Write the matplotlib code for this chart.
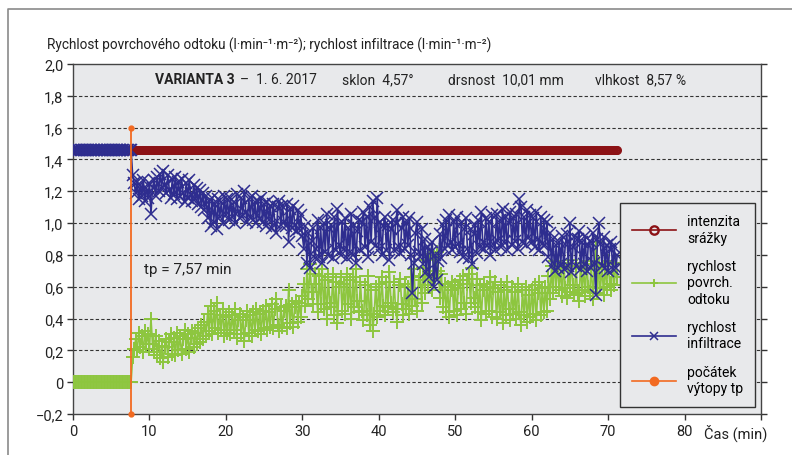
import matplotlib
matplotlib.use("Agg")
import matplotlib.pyplot as plt
from matplotlib.lines import Line2D
import matplotlib.transforms as mtransforms
import numpy as np

plt.rcParams["font.family"] = ["Roboto", "DejaVu Sans"]

# measurement times (min), step 0.2 min
time = np.round(np.arange(0, 71.21, 0.2), 1)

# rainfall intensity (l/min/m2), constant for the whole run
rain = [1.46] * len(time)

# surface runoff rate: zero until ponding, then measured values from 7.8 min
runoff = [0.0] * 39 + [
    0.16, 0.21, 0.27, 0.20, 0.31, 0.22, 0.29, 0.19, 0.32, 0.24,
    0.30, 0.21, 0.40, 0.24, 0.19, 0.29, 0.17, 0.26, 0.15, 0.23,
    0.13, 0.22, 0.27, 0.16, 0.25, 0.30, 0.18, 0.28, 0.17, 0.31,
    0.20, 0.29, 0.18, 0.27, 0.33, 0.21, 0.30, 0.19, 0.28, 0.32,
    0.22, 0.31, 0.24, 0.34, 0.25, 0.36, 0.27, 0.38, 0.29, 0.43,
    0.32, 0.48, 0.30, 0.45, 0.34, 0.50, 0.31, 0.42, 0.33, 0.46,
    0.29, 0.41, 0.31, 0.44, 0.30, 0.42, 0.33, 0.46, 0.28, 0.39,
    0.43, 0.30, 0.41, 0.26, 0.39, 0.45, 0.31, 0.42, 0.29, 0.44,
    0.33, 0.46, 0.32, 0.43, 0.30, 0.45, 0.34, 0.48, 0.33, 0.44,
    0.35, 0.49, 0.34, 0.46, 0.52, 0.36, 0.32, 0.47, 0.35, 0.45,
    0.48, 0.34, 0.58, 0.37, 0.49, 0.35, 0.47, 0.51, 0.38, 0.50,
    0.41, 0.54, 0.62, 0.48, 0.71, 0.52, 0.74, 0.57, 0.49, 0.68,
    0.62, 0.44, 0.67, 0.49, 0.71, 0.46, 0.64, 0.40, 0.66, 0.50,
    0.47, 0.68, 0.42, 0.63, 0.37, 0.60, 0.66, 0.45, 0.62, 0.43,
    0.68, 0.49, 0.64, 0.40, 0.66, 0.47, 0.71, 0.51, 0.44, 0.63,
    0.45, 0.39, 0.61, 0.42, 0.67, 0.36, 0.58, 0.32, 0.43, 0.60,
    0.41, 0.62, 0.45, 0.66, 0.48, 0.42, 0.63, 0.47, 0.69, 0.50,
    0.44, 0.63, 0.46, 0.38, 0.61, 0.65, 0.49, 0.42, 0.62, 0.46,
    0.60, 0.43, 0.66, 0.48, 0.71, 0.52, 0.45, 0.64, 0.67, 0.50,
    0.72, 0.56, 0.77, 0.61, 0.80, 0.64, 0.58, 0.79, 0.66, 0.82,
    0.70, 0.53, 0.68, 0.47, 0.62, 0.44, 0.60, 0.41, 0.58, 0.63,
    0.45, 0.61, 0.42, 0.59, 0.64, 0.46, 0.67, 0.50, 0.43, 0.62,
    0.68, 0.50, 0.72, 0.53, 0.47, 0.65, 0.44, 0.61, 0.39, 0.58,
    0.62, 0.43, 0.60, 0.45, 0.66, 0.41, 0.59, 0.63, 0.40, 0.57,
    0.44, 0.61, 0.37, 0.58, 0.42, 0.63, 0.46, 0.39, 0.60, 0.43,
    0.57, 0.40, 0.62, 0.44, 0.36, 0.58, 0.42, 0.60, 0.38, 0.55,
    0.41, 0.58, 0.43, 0.61, 0.39, 0.56, 0.63, 0.42, 0.59, 0.44,
    0.60, 0.45, 0.67, 0.52, 0.73, 0.56, 0.76, 0.60, 0.74, 0.58,
    0.72, 0.54, 0.75, 0.59, 0.53, 0.73, 0.57, 0.77, 0.61, 0.55,
    0.73, 0.56, 0.51, 0.75, 0.58, 0.72, 0.54, 0.76, 0.60, 0.57,
    0.74, 0.52, 0.71, 0.88, 0.56, 0.75, 0.59, 0.73, 0.55, 0.74,
    0.60, 0.76, 0.62, 0.58, 0.75, 0.61, 0.74, 0.66,
]

# infiltration rate: equal to rainfall until ponding, then measured values
infiltration = [1.46] * 39 + [
    1.30, 1.25, 1.19, 1.26, 1.15, 1.24, 1.17, 1.27, 1.14, 1.22,
    1.16, 1.25, 1.06, 1.22, 1.27, 1.17, 1.29, 1.20, 1.31, 1.23,
    1.33, 1.24, 1.19, 1.30, 1.21, 1.16, 1.28, 1.18, 1.29, 1.15,
    1.26, 1.17, 1.28, 1.19, 1.13, 1.25, 1.16, 1.27, 1.18, 1.14,
    1.24, 1.15, 1.22, 1.12, 1.21, 1.10, 1.19, 1.08, 1.17, 1.03,
    1.14, 0.98, 1.16, 1.01, 1.12, 0.96, 1.15, 1.04, 1.13, 1.00,
    1.17, 1.05, 1.15, 1.02, 1.16, 1.04, 1.13, 1.00, 1.18, 1.07,
    1.03, 1.16, 1.05, 1.20, 1.07, 1.01, 1.15, 1.04, 1.17, 1.02,
    1.13, 1.00, 1.14, 1.03, 1.16, 1.01, 1.12, 0.98, 1.13, 1.02,
    1.11, 0.97, 1.12, 1.00, 0.94, 1.10, 1.14, 0.99, 1.11, 1.01,
    0.98, 1.12, 0.88, 1.09, 0.97, 1.11, 0.99, 0.95, 1.08, 0.96,
    1.05, 0.92, 0.84, 0.98, 0.75, 0.94, 0.72, 0.89, 0.97, 0.78,
    0.84, 1.02, 0.79, 0.97, 0.75, 1.00, 0.82, 1.06, 0.80, 0.96,
    0.99, 0.78, 1.04, 0.83, 1.09, 0.86, 0.80, 1.01, 0.84, 1.03,
    0.78, 0.97, 0.82, 1.06, 0.80, 0.99, 0.75, 0.95, 1.02, 0.83,
    1.01, 1.07, 0.85, 1.04, 0.79, 1.10, 0.88, 1.14, 1.03, 0.86,
    1.16, 0.84, 1.01, 0.80, 0.98, 1.04, 0.83, 0.99, 0.77, 0.96,
    1.02, 0.83, 1.00, 1.08, 0.85, 0.81, 0.97, 1.04, 0.84, 1.00,
    0.86, 1.03, 0.80, 0.56, 0.75, 0.94, 1.01, 0.82, 0.79, 0.96,
    0.74, 0.90, 0.69, 0.85, 0.66, 0.82, 0.88, 0.60, 0.80, 0.64,
    0.76, 0.93, 0.78, 0.99, 0.84, 1.02, 0.86, 1.05, 0.88, 0.83,
    1.01, 0.85, 1.04, 0.87, 0.82, 1.00, 0.79, 0.96, 1.03, 0.84,
    0.78, 0.96, 0.74, 0.93, 0.99, 0.81, 1.02, 0.85, 1.07, 0.88,
    0.84, 1.03, 0.86, 1.01, 0.80, 1.05, 0.87, 0.83, 1.06, 0.89,
    1.02, 0.85, 1.09, 0.88, 1.04, 0.83, 1.00, 1.07, 0.86, 1.03,
    0.89, 1.06, 0.84, 1.15, 1.10, 0.88, 1.04, 0.86, 1.08, 0.91,
    1.05, 0.88, 1.03, 0.85, 1.07, 0.90, 0.83, 1.04, 0.87, 1.02,
    0.86, 1.01, 0.79, 0.94, 0.73, 0.90, 0.70, 0.86, 0.72, 0.88,
    0.74, 0.92, 0.71, 0.87, 0.93, 0.73, 1.00, 0.69, 0.85, 0.91,
    0.73, 0.90, 0.95, 0.71, 0.88, 0.74, 0.92, 0.70, 0.86, 0.89,
    0.72, 0.94, 0.75, 0.55, 0.90, 1.00, 0.87, 0.73, 0.91, 0.72,
    0.86, 0.70, 0.84, 0.88, 0.71, 0.85, 0.72, 0.80,
]

# start of ponding
tp = 7.57
tp_range = [-0.2, 1.6]

y_ticks = [-0.2, 0, 0.2, 0.4, 0.6, 0.8, 1.0, 1.2, 1.4, 1.6, 1.8, 2.0]
y_labels = ["\u22120,2", "0", "0,2", "0,4", "0,6", "0,8", "1,0", "1,2",
            "1,4", "1,6", "1,8", "2,0"]
x_ticks = [0, 10, 20, 30, 40, 50, 60, 70, 80, 90]
x_labels = ["0", "10", "20", "30", "40", "50", "60", "70", "80", "Čas (min)"]

C_RAIN = "#8c1215"
C_RUN = "#8dc63f"
C_INF = "#2e2d8f"
C_TP = "#f26a21"
BG = "#e8e9eb"
TXT = "#222222"

fig = plt.figure(figsize=(7.92, 4.56), dpi=100)
fig.patch.set_facecolor("white")
ax = fig.add_axes([73 / 792, 1 - 415 / 456, 688 / 792, 350 / 456])
ax.set_facecolor(BG)
ax.set_xlim(0, 90)
ax.set_ylim(-0.2, 2.0)

# dashed horizontal grid
for yv in y_ticks[1:-1]:
    ax.axhline(yv, color="#333333", lw=0.8, ls=(0, (3, 2)), zorder=1)

ax.plot(time, rain, color=C_RAIN, lw=1.2, marker="o", ms=4.8, mfc="none",
        mew=1.7, zorder=2, label="intenzita\nsrážky")
ax.plot(time, runoff, color=C_RUN, lw=1.2, marker="+", ms=10, mew=1.4,
        zorder=3, label="rychlost\npovrch.\nodtoku")
ax.plot(time, infiltration, color=C_INF, lw=1.2, marker="x", ms=8.5, mew=1.1,
        zorder=4, label="rychlost\ninfiltrace")
ax.plot([tp, tp], tp_range, color=C_TP, lw=1.3, marker="o", ms=3.5,
        zorder=5, clip_on=False, label="počátek\nvýtopy tp")

ax.set_yticks(y_ticks)
ax.set_yticklabels(y_labels)
ax.set_xticks(x_ticks)
ax.set_xticklabels(x_labels)
ax.tick_params(axis="both", direction="out", length=4, width=1,
               color="#333333", labelsize=10.5, labelcolor=TXT, pad=3)
ax.tick_params(axis="y", right=True)
# time-axis caption sits left of the last tick
last = ax.get_xticklabels()[-1]
last.set_horizontalalignment("right")
last.set_transform(last.get_transform() +
                   mtransforms.ScaledTranslation(6 / 100, 0, fig.dpi_scale_trans))
for sp in ax.spines.values():
    sp.set_color("#444444")
    sp.set_linewidth(1.0)

def dx(px):
    return (px - 73) / 688 * 90

def dy(py):
    return 2.0 - (py - 65) / 350 * 2.2

ax.text(dx(155), dy(80), "VARIANTA 3", fontsize=10, fontweight="bold",
        color=TXT, va="center", ha="left")
ax.text(dx(240), dy(80), "\u2013  1. 6. 2017", fontsize=10,
        color=TXT, va="center", ha="left")
ax.text(dx(342), dy(80), "sklon  4,57°", fontsize=10, color=TXT,
        va="center", ha="left")
ax.text(dx(448), dy(80), "drsnost  10,01 mm", fontsize=10,
        color=TXT, va="center", ha="left")
ax.text(dx(595), dy(80), "vlhkost  8,57 %", fontsize=10, color=TXT,
        va="center", ha="left")
ax.text(dx(144), dy(270), "tp = 7,57 min", fontsize=11, color=TXT,
        va="center", ha="left")

fig.text(47 / 792, 1 - 45 / 456,
         "Rychlost povrchového odtoku (l·min\u207b\u00b9·m\u207b\u00b2); "
         "rychlost infiltrace (l·min\u207b\u00b9·m\u207b\u00b2)",
         fontsize=9.8, color=TXT, va="center", ha="left")

leg = ax.legend(loc="lower right", bbox_to_anchor=(0.9915, 0.02),
                fontsize=10, frameon=True, fancybox=False,
                facecolor=BG, edgecolor="#333333", framealpha=1,
                handlelength=3.2, handletextpad=0.8, labelspacing=1.05,
                borderpad=0.85, borderaxespad=0)
leg.get_frame().set_linewidth(1.0)
for h in leg.legend_handles:
    h.set_markersize(6)
    h.set_linewidth(1.2)
leg.set_zorder(10)

# page frame
fig.add_artist(Line2D([8 / 792, 8 / 792, 1.0], [0.0, 1 - 10 / 456, 1 - 10 / 456],
                      transform=fig.transFigure, color="#8a8a8a", lw=1.2))

fig.savefig("out.png", dpi=100, facecolor="white")
